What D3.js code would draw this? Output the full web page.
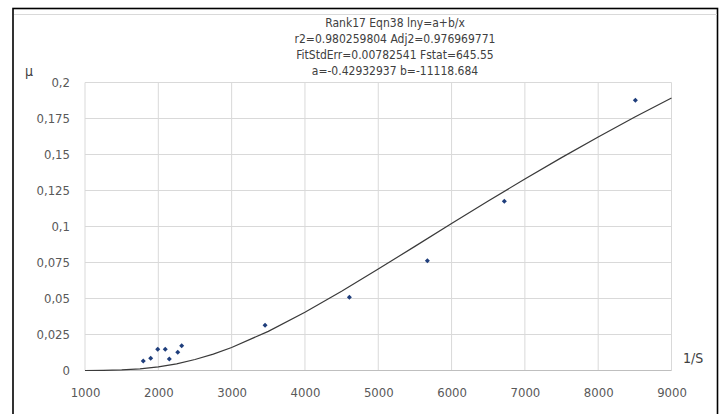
<!DOCTYPE html>
<html>
<head>
<meta charset="utf-8">
<script src="https://cdn.jsdelivr.net/npm/d3@7/dist/d3.min.js"></script>
<style>
  html, body { margin: 0; padding: 0; background: #ffffff; }
  svg { display: block; }
  text { font-family: "Liberation Sans Narrow", "DejaVu Sans Condensed", "Roboto", sans-serif; }
</style>
</head>
<body>
<svg id="chart" width="724" height="414"></svg>
<script>
// Observed data points (1/S, μ)
const obsX = [1795, 1896, 1992, 2095, 2150, 2265, 2319, 3456, 4606, 5670, 6720, 8507];
const obsY = [0.0066, 0.0085, 0.0147, 0.0147, 0.0080, 0.0126, 0.0172, 0.0314, 0.0508, 0.0762, 0.1175, 0.1876];

// Fitted curve ln y = a + b/x, tabulated at sample points
const fitX = [1000, 1250, 1500, 1750, 2000, 2250, 2500, 2750, 3000, 3500, 4000, 4500, 5000, 5500, 6000, 6500, 7000, 7500, 8000, 8500, 9000];
const fitY = [0.00001, 0.00009, 0.00039, 0.00113, 0.00251, 0.00465, 0.00762, 0.01142, 0.01600, 0.02716, 0.04039, 0.05503, 0.07046, 0.08620, 0.10205, 0.11766, 0.13297, 0.14783, 0.16219, 0.17600, 0.18929];

// Axis ticks
const xTicks = [1000, 2000, 3000, 4000, 5000, 6000, 7000, 8000, 9000];
const yTicks = [0, 0.025, 0.05, 0.075, 0.1, 0.125, 0.15, 0.175, 0.2];
const yTickLabels = ["0", "0,025", "0,05", "0,075", "0,1", "0,125", "0,15", "0,175", "0,2"];

// Fit statistics header
const titleLines = [
  "Rank17 Eqn38 lny=a+b/x",
  "r2=0.980259804 Adj2=0.976969771",
  "FitStdErr=0.00782541 Fstat=645.55",
  "a=-0.42932937 b=-11118.684"
];

const svg = d3.select("#chart");

// Outer frame
svg.append("rect")
  .attr("x", 13).attr("y", 8.5)
  .attr("width", 704.5).attr("height", 420)
  .attr("fill", "none").attr("stroke", "#000").attr("stroke-width", 1.6);
svg.append("line")
  .attr("x1", 14).attr("x2", 717).attr("y1", 14.5).attr("y2", 14.5)
  .attr("stroke", "#d9d9d9").attr("stroke-width", 1);

const x = d3.scaleLinear().domain([1000, 9000]).range([85, 671.5]);
const y = d3.scaleLinear().domain([0, 0.2]).range([370.5, 82.5]);

// Gridlines
const grid = svg.append("g");
grid.selectAll("line.v").data(xTicks).join("line")
  .attr("class", "v")
  .attr("x1", d => x(d)).attr("x2", d => x(d))
  .attr("y1", y(0)).attr("y2", y(0.2))
  .attr("stroke", "#d9d9d9").attr("stroke-width", 1);
grid.selectAll("line.h").data(yTicks).join("line")
  .attr("class", "h")
  .attr("x1", x(1000)).attr("x2", x(9000))
  .attr("y1", d => y(d)).attr("y2", d => y(d))
  .attr("stroke", d => d === 0 ? "#bfbfbf" : "#d9d9d9").attr("stroke-width", 1);

// Axes (labels only)
const xAxis = d3.axisBottom(x).tickValues(xTicks).tickSize(0).tickPadding(17)
  .tickFormat(d3.format("d"));
const gx = svg.append("g").attr("transform", `translate(0,${y(0)})`).call(xAxis);
gx.select(".domain").remove();
gx.selectAll("text").attr("fill", "#595959").style("font-size", "13px");

const yAxis = d3.axisLeft(y).tickValues(yTicks).tickSize(0).tickPadding(15)
  .tickFormat((d, i) => yTickLabels[i]);
const gy = svg.append("g").attr("transform", `translate(${x(1000)},0)`).call(yAxis);
gy.select(".domain").remove();
gy.selectAll("text").attr("fill", "#595959").style("font-size", "13px");

// Axis titles
svg.append("text").attr("x", 25).attr("y", 76)
  .attr("fill", "#404040").style("font-size", "14px").text("μ");
svg.append("text").attr("x", 683).attr("y", 363)
  .attr("fill", "#404040").style("font-size", "14px").text("1/S");

// Header text
svg.append("g").selectAll("text").data(titleLines).join("text")
  .attr("x", 395).attr("y", (d, i) => 27 + i * 16)
  .attr("text-anchor", "middle")
  .attr("fill", "#404040").style("font-size", "12px")
  .text(d => d);

// Fitted curve
const fit = fitX.map((v, i) => [v, fitY[i]]);
svg.append("path").datum(fit)
  .attr("fill", "none").attr("stroke", "#3a3a3a").attr("stroke-width", 1.2)
  .attr("d", d3.line().x(d => x(d[0])).y(d => y(d[1])));

// Observed points
const pts = obsX.map((v, i) => [v, obsY[i]]);
svg.append("g").selectAll("path").data(pts).join("path")
  .attr("transform", d => `translate(${x(d[0])},${y(d[1])})`)
  .attr("d", d3.symbol(d3.symbolDiamond2, 16))
  .attr("fill", "#1f3e7c");
</script>
</body>
</html>
